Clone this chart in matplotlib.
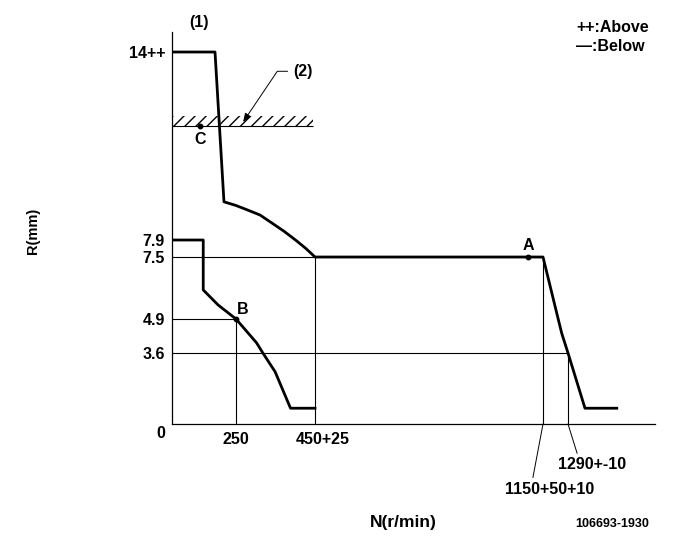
import numpy as np
import matplotlib
matplotlib.use("Agg")
import matplotlib.pyplot as plt
from matplotlib import font_manager

# ---------------- data ----------------
curve1_n = [0, 168, 203, 250, 280, 311, 341, 372, 402, 427, 450,
            1150, 1235, 1255, 1290, 1385, 1563]
curve1_r = [14, 14, 9.14, 9.02, 8.87, 8.71, 8.45, 8.18, 7.89, 7.70, 7.5,
            7.5, 4.9, 4.35, 3.6, 0.8, 0.8]
curve2_n = [0, 122, 122, 180, 250, 302, 318, 349, 388, 450]
curve2_r = [7.9, 7.9, 6.12, 5.49, 4.9, 3.99, 3.6, 2.65, 0.8, 0.8]

point_names = ["A", "B", "C"]
point_n = [1104, 250, 109]
point_r = [7.5, 4.9, 11.6]

ytick_vals = [14, 7.9, 7.5, 4.9, 3.6]
ytick_labels = ["14++", "7.9", "7.5", "4.9", "3.6"]

href_r = [7.5, 4.9, 3.6]
href_n_end = [1150, 250, 1290]
vref_n = [250, 450, 1150, 1290]
vref_r_end = [4.9, 7.5, 7.5, 3.6]

stop_r = 11.6
stop_n_end = 446

# schematic (non-linear) axis knots
XK = [0, 250, 450, 1150, 1290, 1800]
XP = [172, 236, 315, 543, 568, 659.1]
YK = [0, 3.6, 4.9, 7.5, 7.9, 14, 15]
YP = [-424, -353, -319, -257, -240, -52, -21.2]


def piecewise(k, p):
    k = np.asarray(k, float)
    p = np.asarray(p, float)

    def f(v):
        v = np.asarray(v, float)
        out = np.interp(v, k, p)
        out = np.where(v < k[0], p[0] + (v - k[0]) * (p[1] - p[0]) / (k[1] - k[0]), out)
        out = np.where(v > k[-1], p[-1] + (v - k[-1]) * (p[-1] - p[-2]) / (k[-1] - k[-2]), out)
        return out
    return f


names = {f.name for f in font_manager.fontManager.ttflist}
if "Liberation Sans Narrow" in names:
    FAM = ["Liberation Sans Narrow", "DejaVu Sans"]
    FS = 13
else:
    FAM = ["Liberation Sans", "DejaVu Sans"]
    FS = 11.5
plt.rcParams["font.family"] = FAM
plt.rcParams["font.weight"] = "bold"
plt.rcParams["hatch.linewidth"] = 1.0

W, H = 681, 549
fig = plt.figure(figsize=(W / 100, H / 100), dpi=100)
ax = fig.add_axes([172 / W, 1 - 424 / H, (655 - 172) / W, (424 - 32) / H])
ax.set_xscale("function", functions=(piecewise(XK, XP), piecewise(XP, XK)))
ax.set_yscale("function", functions=(piecewise(YK, YP), piecewise(YP, YK)))
ax.set_xlim(0, 1777)
ax.set_ylim(0, 14.65)

for s in ["top", "right"]:
    ax.spines[s].set_visible(False)
for s in ["left", "bottom"]:
    ax.spines[s].set_linewidth(0.9)

ax.set_xticks([])
ax.set_yticks(ytick_vals, ytick_labels, fontsize=FS)
ax.tick_params(axis="y", length=0, pad=5)
ax.minorticks_off()

thin = dict(color="black", lw=0.8)
ax.hlines(href_r, 0, href_n_end, **thin)
ax.vlines(vref_n, 0, vref_r_end, **thin)
ax.hlines([stop_r], 0, stop_n_end, **thin)
ax.fill_between([0, stop_n_end], stop_r, stop_r + 0.33, facecolor="none",
                edgecolor="black", lw=0, hatch="///")

ax.plot(curve1_n, curve1_r, color="black", lw=2.0, solid_joinstyle="round")
ax.plot(curve2_n, curve2_r, color="black", lw=2.0, solid_joinstyle="round")

ax.plot(point_n, point_r, "o", color="black", ms=3.2, zorder=5)
label_offsets = [(0, 8), (4.7, 7.2), (0, -10)]
for nm, n, r, off in zip(point_names, point_n, point_r, label_offsets):
    ax.annotate(nm, (n, r), xytext=off, textcoords="offset points",
                ha="center", va="center", fontsize=FS)

# axis value labels
ax.annotate("0", (0, 0), xytext=(-5, -7.2), textcoords="offset points",
            ha="right", va="center", fontsize=FS, annotation_clip=False)
ax.annotate("250", (250, 0), xytext=(0, -11.5), textcoords="offset points",
            ha="center", va="center", fontsize=FS, annotation_clip=False)
ax.annotate("450+25", (450, 0), xytext=(5.4, -11.5), textcoords="offset points",
            ha="center", va="center", fontsize=FS, annotation_clip=False)
ax.annotate("1150+50+10", (1150, 0), xytext=(5, -47), textcoords="offset points",
            ha="center", va="center", fontsize=FS, annotation_clip=False,
            arrowprops=dict(arrowstyle="-", lw=0.7, color="black",
                            shrinkA=1, shrinkB=0, relpos=(0.3, 1.0)))
ax.annotate("1290+-10", (1290, 0), xytext=(17.3, -29.5), textcoords="offset points",
            ha="center", va="center", fontsize=FS, annotation_clip=False,
            arrowprops=dict(arrowstyle="-", lw=0.7, color="black",
                            shrinkA=1, shrinkB=0, relpos=(0.3, 1.0)))

# (2) leader
ax.annotate("(2)", (268, 11.73), xytext=(36, 36.5), textcoords="offset points",
            ha="left", va="center", fontsize=FS, annotation_clip=False,
            arrowprops=dict(arrowstyle="-|>,head_length=0.45,head_width=0.18",
                            lw=0.7, color="black", shrinkA=2, shrinkB=0,
                            relpos=(0.0, 0.5),
                            connectionstyle="angle,angleA=180,angleB=56,rad=0"))

fig.text(199 / W, 1 - 22 / H, "(1)", ha="center", va="center", fontsize=FS)
fig.text(576 / W, 1 - 27 / H, "++:Above", ha="left", va="center", fontsize=FS)
fig.text(576 / W, 1 - 47 / H, "\u2014:Below", ha="left", va="center", fontsize=FS)
fig.text(33 / W, 1 - 231 / H, "R(mm)", ha="center", va="center", rotation=90, fontsize=FS - 1)
fig.text(403 / W, 1 - 523 / H, "N(r/min)", ha="center", va="center", fontsize=FS + 1)
fig.text(612 / W, 1 - 524 / H, "106693-1930", ha="center", va="center", fontsize=FS - 2.5)

fig.savefig("out.png", dpi=100)
